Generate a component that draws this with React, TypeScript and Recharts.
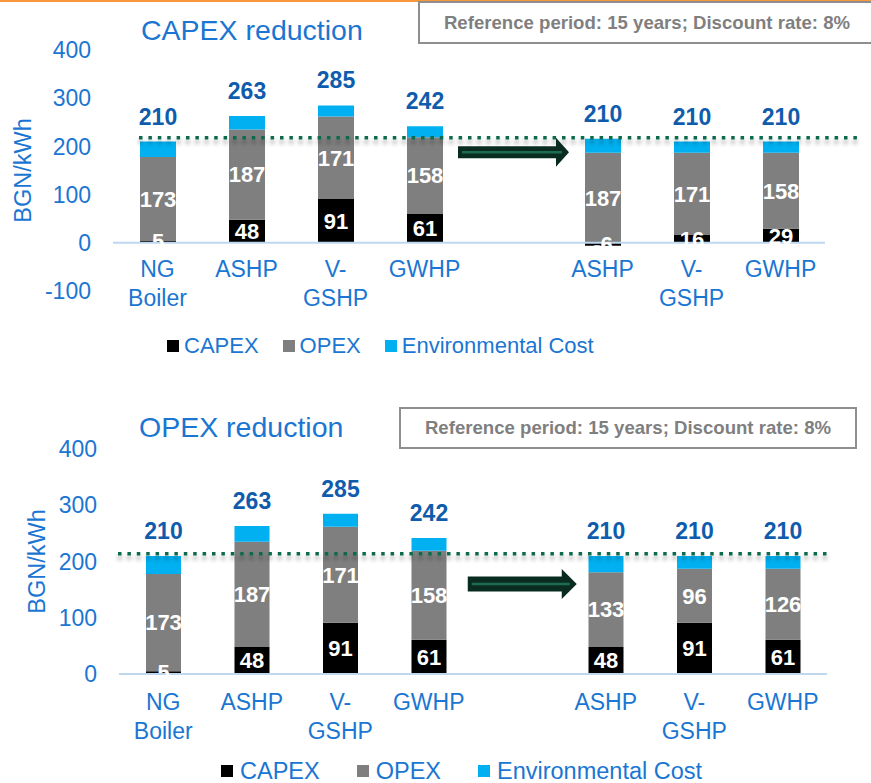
import React from 'react'
import { BarChart, Bar, XAxis, YAxis, LabelList, ReferenceLine, ReferenceDot } from 'recharts'

const font = "'Liberation Sans', Arial, sans-serif"
const axisBlue = '#1A76D2'
const totalBlue = '#0F5CAD'
const targetGreen = '#0D6B4E'

const categoryKeys = ['ng', 'ashp', 'vgshp', 'gwhp', 'gap', 'ashp2', 'vgshp2', 'gwhp2']
const categoryLabels = ['NG\nBoiler', 'ASHP', 'V-\nGSHP', 'GWHP', '', 'ASHP', 'V-\nGSHP', 'GWHP']

const seriesNames = ['CAPEX', 'OPEX', 'Environmental Cost']
const seriesColors = ['#000000', '#7F7F7F', '#00B0F0']

// CAPEX reduction case
const capexCaseCapex = [5, 48, 91, 61, null, -6, 16, 29]
const capexCaseOpex = [173, 187, 171, 158, null, 187, 171, 158]
const capexCaseEnv = [32, 28, 23, 23, null, 29, 23, 23]
const capexCaseTotal = [210, 263, 285, 242, null, 210, 210, 210]

// OPEX reduction case
const opexCaseCapex = [5, 48, 91, 61, null, 48, 91, 61]
const opexCaseOpex = [173, 187, 171, 158, null, 133, 96, 126]
const opexCaseEnv = [32, 28, 23, 23, null, 29, 23, 23]
const opexCaseTotal = [210, 263, 285, 242, null, 210, 210, 210]

const capexCaseTicks = [-100, 0, 100, 200, 300, 400]
const opexCaseTicks = [0, 100, 200, 300, 400]

const noteText = 'Reference period: 15 years; Discount rate: 8%'

const labelByKey: Record<string, string> = {}
categoryKeys.forEach((k, i) => { labelByKey[k] = categoryLabels[i] })

const buildRows = (capex: (number | null)[], opex: (number | null)[], env: (number | null)[], total: (number | null)[]) =>
  categoryKeys.map((key, i) => ({ key, capex: capex[i], opex: opex[i], env: env[i], total: total[i] }))

const capexCaseRows = buildRows(capexCaseCapex, capexCaseOpex, capexCaseEnv, capexCaseTotal)
const opexCaseRows = buildRows(opexCaseCapex, opexCaseOpex, opexCaseEnv, opexCaseTotal)

function CategoryTick(props: any) {
  const { x, y, payload, baseDy } = props
  const lines = (labelByKey[payload.value] || '').split('\n')
  return (
    <text x={x} y={y + baseDy} textAnchor="middle" fill={axisBlue} fontSize={23} fontFamily={font}>
      {lines.map((line: string, i: number) => (
        <tspan key={i} x={x} dy={i === 0 ? 0 : 28.5}>{line}</tspan>
      ))}
    </text>
  )
}

// dotted target line with a soft drop shadow
function TargetLine(props: any) {
  const { x1, y1, x2, startDx, endDx, filterId } = props
  const a = x1 + startDx
  const b = x2 + endDx
  return (
    <g>
      <defs>
        <filter id={filterId} filterUnits="userSpaceOnUse" x={a - 10} y={y1 - 15} width={b - a + 20} height={35}>
          <feDropShadow dx="0" dy="4" stdDeviation="2.2" floodColor="#000" floodOpacity="0.4" />
        </filter>
      </defs>
      <line x1={a} y1={y1} x2={b} y2={y1} stroke={targetGreen} strokeWidth={3.5} strokeDasharray="3.5 5.9" filter={`url(#${filterId})`} />
    </g>
  )
}

function BlockArrow(props: any) {
  const { cx, cy, dx, len, bodyH, headH, headLen } = props
  if (cx == null || cy == null) return null
  const x0 = cx + dx - len / 2
  const x1 = cx + dx + len / 2
  const xh = x1 - headLen
  const pts = [
    [x0, cy - bodyH / 2], [xh, cy - bodyH / 2], [xh, cy - headH / 2], [x1, cy],
    [xh, cy + headH / 2], [xh, cy + bodyH / 2], [x0, cy + bodyH / 2],
  ].map((p) => p.join(',')).join(' ')
  return (
    <g>
      <polygon points={pts} fill="#0A2B20" />
      <line x1={x0 + 4} y1={cy} x2={x1 - 7} y2={cy} stroke="#1E6B51" strokeWidth={2.5} />
    </g>
  )
}

interface PanelProps {
  top: number
  height: number
  marginTop: number
  axisWidth: number
  rightMargin: number
  xAxisHeight: number
  barSize: number
  rows: any[]
  ticks: number[]
  tickDy: number
  yLabelX: number
  target: number
  targetStartDx: number
  targetEndDx: number
  arrowLevel: number
  arrowDx: number
  arrowLen: number
  arrowBodyH: number
  arrowHeadH: number
  arrowHeadLen: number
  filterId: string
}

function CostPanel(p: PanelProps) {
  const whiteLabel = { fill: '#FFFFFF', fontSize: 22, fontWeight: 700, fontFamily: font }
  return (
    <div style={{ position: 'absolute', left: 0, top: p.top }}>
      <BarChart
        width={871}
        height={p.height}
        data={p.rows}
        stackOffset="sign"
        barSize={p.barSize}
        margin={{ top: p.marginTop, right: p.rightMargin, left: 0, bottom: 0 }}
      >
        <XAxis
          dataKey="key"
          height={p.xAxisHeight}
          axisLine={false}
          tickLine={false}
          tickSize={0}
          tickMargin={0}
          interval={0}
          tick={(t: any) => <CategoryTick {...t} baseDy={p.tickDy} />}
        />
        <YAxis
          type="number"
          width={p.axisWidth}
          domain={[p.ticks[0], p.ticks[p.ticks.length - 1]]}
          ticks={p.ticks}
          axisLine={false}
          tickLine={false}
          tickSize={0}
          tickMargin={22}
          tick={{ fill: axisBlue, fontSize: 23, fontFamily: font }}
          label={(l: any) => {
            const vb = l.viewBox || {}
            const cy = vb.y + vb.height / 2
            return (
              <text
                x={p.yLabelX}
                y={cy}
                transform={`rotate(-90, ${p.yLabelX}, ${cy})`}
                textAnchor="middle"
                dominantBaseline="central"
                fill={axisBlue}
                fontSize={23.5}
                fontFamily={font}
              >
                BGN/kWh
              </text>
            )
          }}
        />
        <Bar dataKey="capex" stackId="cost" fill={seriesColors[0]} isAnimationActive={false}>
          <LabelList dataKey="capex" position="center" {...whiteLabel} />
        </Bar>
        <Bar dataKey="opex" stackId="cost" fill={seriesColors[1]} isAnimationActive={false}>
          <LabelList dataKey="opex" position="center" {...whiteLabel} />
        </Bar>
        <Bar dataKey="env" stackId="cost" fill={seriesColors[2]} isAnimationActive={false}>
          <LabelList dataKey="total" position="top" offset={17} fill={totalBlue} fontSize={23} fontWeight={700} fontFamily={font} />
        </Bar>
        <ReferenceLine y={0} stroke="#BDD7EE" strokeWidth={2} />
        <ReferenceLine
          y={p.target}
          shape={(s: any) => <TargetLine {...s} startDx={p.targetStartDx} endDx={p.targetEndDx} filterId={p.filterId} />}
        />
        <ReferenceDot
          x="gap"
          y={p.arrowLevel}
          r={1}
          shape={(s: any) => (
            <BlockArrow {...s} dx={p.arrowDx} len={p.arrowLen} bodyH={p.arrowBodyH} headH={p.arrowHeadH} headLen={p.arrowHeadLen} />
          )}
        />
      </BarChart>
    </div>
  )
}

function Legend({ top, left, fontSize, gap, textGap }: { top: number; left: number; fontSize: number; gap: number; textGap: number }) {
  return (
    <div style={{ position: 'absolute', top, left, display: 'flex', alignItems: 'center', height: 20, fontFamily: font, fontSize, color: axisBlue, whiteSpace: 'nowrap' }}>
      {seriesNames.map((name, i) => (
        <div key={name} style={{ display: 'flex', alignItems: 'center', marginRight: gap }}>
          <span style={{ width: 12, height: 12, background: seriesColors[i], display: 'inline-block', marginRight: textGap }} />
          <span style={{ lineHeight: '20px' }}>{name}</span>
        </div>
      ))}
    </div>
  )
}

function NoteBox({ top, left, width, height }: { top: number; left: number; width: number; height: number }) {
  return (
    <div
      style={{
        position: 'absolute', top, left, width, height, boxSizing: 'border-box',
        border: '2px solid #8E8E8E', background: '#FFFFFF', display: 'flex', alignItems: 'center',
        justifyContent: 'center', fontFamily: font, fontWeight: 700, fontSize: 18.6, color: '#7F7F7F', whiteSpace: 'nowrap',
      }}
    >
      {noteText}
    </div>
  )
}

function Title({ text, top, left }: { text: string; top: number; left: number }) {
  return (
    <div style={{ position: 'absolute', top, left, fontFamily: font, fontSize: 28.5, lineHeight: '28px', color: axisBlue, whiteSpace: 'nowrap' }}>
      {text}
    </div>
  )
}

export default function App() {
  return (
    <div style={{ position: 'absolute', left: 0, top: 0, width: 871, height: 783, overflow: 'hidden', background: '#FFFFFF' }}>
      <div style={{ position: 'absolute', left: 0, top: 0, width: 871, height: 2, background: '#F7963A' }} />

      <CostPanel
        top={0}
        height={351}
        marginTop={50}
        axisWidth={113}
        rightMargin={46}
        xAxisHeight={60}
        barSize={36}
        rows={capexCaseRows}
        ticks={capexCaseTicks}
        tickDy={-14}
        yLabelX={23}
        target={218}
        targetStartDx={26}
        targetEndDx={33}
        arrowLevel={188}
        arrowDx={0}
        arrowLen={111}
        arrowBodyH={12}
        arrowHeadH={29}
        arrowHeadLen={13}
        filterId="shadowCapex"
      />
      <Title text="CAPEX reduction" top={16} left={141} />
      <NoteBox top={1} left={418} width={458} height={43} />
      <Legend top={336} left={167} fontSize={22} gap={24} textGap={5} />

      <CostPanel
        top={400}
        height={354}
        marginTop={49}
        axisWidth={119}
        rightMargin={44}
        xAxisHeight={80}
        barSize={35}
        rows={opexCaseRows}
        ticks={opexCaseTicks}
        tickDy={36}
        yLabelX={37}
        target={214}
        targetStartDx={-1}
        targetEndDx={0}
        arrowLevel={160}
        arrowDx={5}
        arrowLen={109}
        arrowBodyH={15}
        arrowHeadH={30}
        arrowHeadLen={15}
        filterId="shadowOpex"
      />
      <Title text="OPEX reduction" top={413} left={139} />
      <NoteBox top={407} left={399} width={458} height={42} />
      <Legend top={761} left={221} fontSize={23.5} gap={37} textGap={7} />
    </div>
  )
}
